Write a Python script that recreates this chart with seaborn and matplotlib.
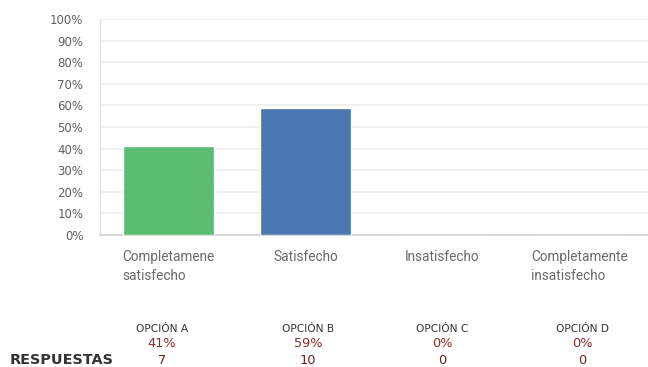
import matplotlib
matplotlib.use("Agg")
import matplotlib.pyplot as plt
import seaborn as sns
import pandas as pd

categories = ["Completamene\nsatisfecho", "Satisfecho", "Insatisfecho", "Completamente\ninsatisfecho"]
percentages = [41, 59, 0, 0]
responses = [7, 10, 0, 0]
options = ["OPCIÓN A", "OPCIÓN B", "OPCIÓN C", "OPCIÓN D"]
bar_colors = ["#5bbd72", "#4a78b3", "#c9a33e", "#8d6cab"]
y_ticks = list(range(0, 101, 10))

W, H = 648, 367
# horizontal centres (pixels) of the summary table columns
table_cols_px = [162, 308, 442, 582]

sns.set_theme(style="white")
plt.rcParams["font.family"] = ["DejaVu Sans"]

df = pd.DataFrame({"cat": categories, "pct": percentages})

fig = plt.figure(figsize=(W / 100, H / 100), dpi=100)
ax = fig.add_axes([100 / W, 1 - 235 / H, 548 / W, 216 / H])

sns.barplot(data=df, x="cat", y="pct", hue="cat", palette=bar_colors,
            width=0.66, legend=False, ax=ax, saturation=1, zorder=3)

ax.set_xlim(-0.5, 3.5)
ax.set_ylim(0, 100)
ax.set_yticks(y_ticks)
ax.set_yticklabels([f"{t}%" for t in y_ticks], fontsize=8.5, color="#5f5f5f")
ax.yaxis.grid(True, color="#ececec", linewidth=1.1, zorder=0)
ax.set_axisbelow(True)
ax.set_xlabel("")
ax.set_ylabel("")
ax.tick_params(axis="y", length=0, pad=12)
ax.tick_params(axis="x", length=0, pad=11)
ax.set_xticks(range(len(categories)))
ax.set_xticklabels(categories, fontsize=9.8, color="#6a6a6a", family="Roboto",
                   va="top", ha="center", multialignment="left", linespacing=1.4)

for side in ["top", "right"]:
    ax.spines[side].set_visible(False)
ax.spines["left"].set_color("#e2e2e2")
ax.spines["left"].set_linewidth(1)
ax.spines["bottom"].set_color("#d4d4d4")
ax.spines["bottom"].set_linewidth(1.3)

# summary table below the chart
for xp, opt, pct, n in zip(table_cols_px, options, percentages, responses):
    x = xp / W
    fig.text(x, 1 - 329.5 / H, opt, ha="center", va="center",
             fontsize=7.65, color="#333333")
    fig.text(x, 1 - 343.5 / H, f"{pct}%", ha="center", va="center",
             fontsize=9.3, color="#8a2b2b")
    fig.text(x, 1 - 360.5 / H, f"{n}", ha="center", va="center",
             fontsize=9.3, color="#6b2020")

fig.text(10 / W, 1 - 360.5 / H, "RESPUESTAS", ha="left", va="center",
         fontsize=10.4, fontweight="bold", color="#333333")

fig.savefig("out.png", dpi=100)
